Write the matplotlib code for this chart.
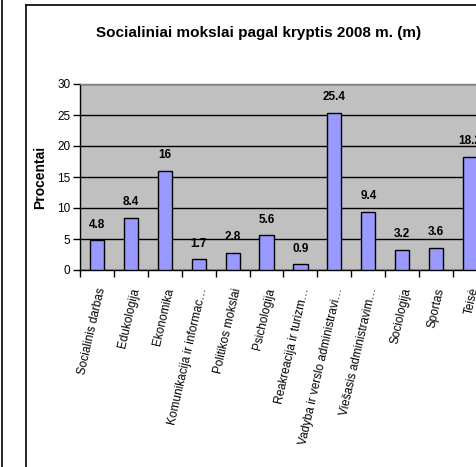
import matplotlib
matplotlib.use("Agg")
import matplotlib.pyplot as plt
import matplotlib.transforms as mtransforms
from matplotlib.lines import Line2D
from matplotlib import font_manager

categories = ["Socialinis darbas", "Edukologija", "Ekonomika",
              "Komunikacija ir informac\u2026", "Politikos mokslai", "Psichologija",
              "Reakreacija ir turizm\u2026", "Vadyba ir verslo administravi\u2026",
              "Viešasis administravim\u2026", "Sociologija", "Sportas", "Teisė"]
values = [4.8, 8.4, 16, 1.7, 2.8, 5.6, 0.9, 25.4, 9.4, 3.2, 3.6, 18.2]
value_labels = ["4.8", "8.4", "16", "1.7", "2.8", "5.6", "0.9", "25.4", "9.4", "3.2", "3.6", "18.2"]
yticks = [0, 5, 10, 15, 20, 25, 30]
title = "Socialiniai mokslai pagal kryptis 2008 m. (m)"
ylabel = "Procentai"

names = {f.name for f in font_manager.fontManager.ttflist}
narrow = "Liberation Sans Narrow" if "Liberation Sans Narrow" in names else "Liberation Sans"
plt.rcParams['font.family'] = ["Liberation Sans", "DejaVu Sans"]

W, H = 477, 467
fig = plt.figure(figsize=(W / 100, H / 100), dpi=100)
fig.patch.set_facecolor("white")

def fx(px):
    return px / W

def fy(py):
    return 1 - py / H

# outer page line and chart border
fig.add_artist(Line2D([fx(2), fx(2)], [0, 1], color="black", lw=1.2, transform=fig.transFigure))
fig.add_artist(Line2D([fx(26), fx(26)], [0, fy(5)], color="black", lw=1.2, transform=fig.transFigure))
fig.add_artist(Line2D([fx(26), 1.0], [fy(5), fy(5)], color="black", lw=1.2, transform=fig.transFigure))

ax_left, ax_right, ax_top, ax_bottom = 80, 487, 84, 270
ax = fig.add_axes([fx(ax_left), fy(ax_bottom), fx(ax_right - ax_left), (ax_bottom - ax_top) / H])
ax.set_facecolor("#C0C0C0")

x = list(range(len(categories)))
ax.bar(x, values, width=0.42, color="#9999FF", edgecolor="black", linewidth=1.0, zorder=3)
ax.set_xlim(-0.5, len(categories) - 0.5)
ax.set_ylim(0, 30)
ax.set_yticks(yticks)
ax.set_yticklabels([str(t) for t in yticks], fontfamily=narrow, fontsize=8.5)
ax.yaxis.grid(True, color="black", linewidth=1.0, zorder=1)
ax.set_axisbelow(True)

for s in ["top", "right"]:
    ax.spines[s].set_color("#808080")
    ax.spines[s].set_linewidth(1.0)
for s in ["left", "bottom"]:
    ax.spines[s].set_color("black")
    ax.spines[s].set_linewidth(1.0)

ax.tick_params(axis="y", direction="out", length=5, width=1, color="black", pad=2)
ax.set_xticks(x)
ax.set_xticklabels(categories, rotation=77, ha="right", va="center",
                   rotation_mode="anchor", fontsize=8.5, color="black")
ax.tick_params(axis="x", which="major", length=0, pad=13)
ax.set_xticks([i - 0.5 for i in range(len(categories) + 1)], minor=True)
ax.tick_params(axis="x", which="minor", direction="out", length=5, width=1, color="black")

offset = mtransforms.ScaledTranslation(5 / 100, 0, fig.dpi_scale_trans)
for lab in ax.get_xticklabels():
    lab.set_transform(lab.get_transform() + offset)

for xi, v, lab in zip(x, values, value_labels):
    ax.annotate(lab, (xi, v), xytext=(0, 7), textcoords="offset points",
                ha="center", va="bottom", fontsize=8.5, fontweight="bold",
                fontfamily=narrow, zorder=5, annotation_clip=False)

fig.text(fx(40), fy(177), ylabel, rotation=90, ha="center", va="center",
         fontsize=10, fontweight="bold")
fig.text(fx(259), fy(33), title, ha="center", va="center",
         fontsize=11, fontweight="bold", fontfamily=narrow)

fig.savefig("out.png", dpi=100)
